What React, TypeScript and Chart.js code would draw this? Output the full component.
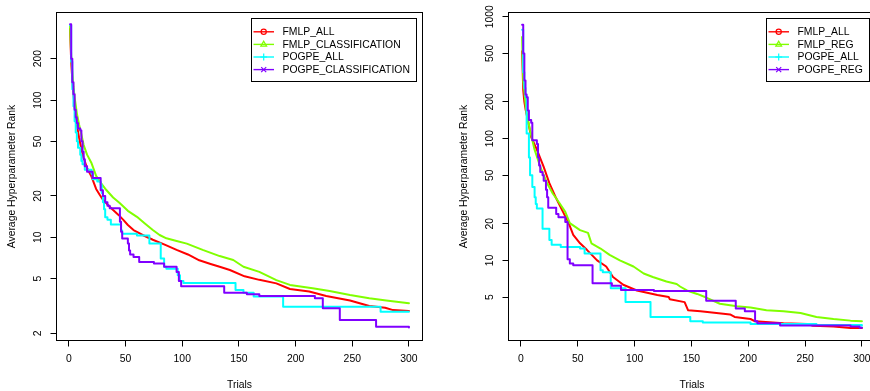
import React, { useEffect, useRef } from "react";
import { Chart, registerables } from "chart.js";

Chart.register(...registerables);

type Pt = [number, number];

// ---- axis ticks & labels ----
const TRIAL_TICKS = [0, 50, 100, 150, 200, 250, 300];
const LEFT_RANK_TICKS = [2, 5, 10, 20, 50, 100, 200];
const RIGHT_RANK_TICKS = [5, 10, 20, 50, 100, 200, 500, 1000];
const X_TITLE = "Trials";
const Y_TITLE = "Average Hyperparameter Rank";

// ---- series names / styles ----
const LEFT_NAMES = ["FMLP_ALL", "FMLP_CLASSIFICATION", "POGPE_ALL", "POGPE_CLASSIFICATION"];
const RIGHT_NAMES = ["FMLP_ALL", "FMLP_REG", "POGPE_ALL", "POGPE_REG"];
const SERIES_COLORS = ["#FF0000", "#80FF00", "#00FFFF", "#8000FF"];
const SERIES_MARKERS = ["circle", "triangle", "plus", "cross"];
const SERIES_STEPPED = [false, false, true, true];

// ---- left panel data: [trial, average rank] ----
const LEFT_FMLP_ALL: Pt[] = [
  [1, 330], [2, 190], [3, 140], [4, 110], [5, 90], [7, 66], [9, 53], [11, 44], [13, 38],
  [16, 32], [20, 27.6], [24, 22.5], [27, 20.5], [30, 18.8], [35, 17], [39, 15.8], [44, 14.5],
  [48, 13.4], [52, 12.3], [57, 11.3], [65, 10.4], [74, 9.6], [85, 8.8], [95, 8.1], [105, 7.5],
  [115, 6.8], [125, 6.4], [133, 6.1], [142, 5.78], [155, 5.2], [168, 4.9], [183, 4.62],
  [195, 4.2], [212, 4.03], [227, 3.74], [248, 3.47], [265, 3.16], [279, 3.07], [286, 2.95],
  [300, 2.91],
];
const LEFT_FMLP_CLASSIFICATION: Pt[] = [
  [1, 345], [2, 210], [3, 160], [4, 125], [5, 105], [7, 80], [9, 66], [11, 56], [13, 47],
  [16, 40], [20, 34.6], [24, 28], [28, 25], [33, 22.1], [39, 19.5], [45, 17.7], [52, 15.6],
  [60, 14.1], [67, 12.6], [74, 11.3], [80, 10.4], [86, 9.84], [95, 9.4], [104, 9.0],
  [118, 8.1], [133, 7.3], [145, 6.84], [154, 6.1], [168, 5.6], [183, 4.88], [195, 4.5],
  [215, 4.26], [230, 4.06], [248, 3.8], [265, 3.6], [280, 3.47], [300, 3.31],
];
const LEFT_POGPE_ALL: Pt[] = [
  [1, 350], [2, 190], [3, 120], [4, 90], [5, 70], [6, 58], [7, 50], [8, 45], [10, 40],
  [11, 36], [12, 34], [14, 31], [20, 29], [21, 26.5], [25, 25.5], [28, 24], [29, 21],
  [30, 18], [31, 16], [32, 14], [34, 13.4], [37, 12.4], [46, 11.2], [47, 10.6], [60, 10.3],
  [71, 9.0], [81, 7.0], [84, 6.1], [86, 5.9], [96, 5.3], [98, 4.8], [101, 4.65], [147, 4.13],
  [154, 3.95], [163, 3.7], [189, 3.12], [275, 2.87], [300, 2.87],
];
const LEFT_POGPE_CLASSIFICATION: Pt[] = [
  [1, 356], [2, 200], [3, 135], [4, 110], [5, 85], [6, 75], [7, 68], [8, 62], [10, 60],
  [11, 50], [12, 42], [13, 37], [14, 33], [16, 30], [21, 27], [28, 22], [30, 20], [32, 18],
  [34, 17], [36, 16.3], [45, 13], [46, 11], [47, 9.8], [52, 9], [53, 8], [54, 7.5], [57, 7.2],
  [62, 6.6], [75, 6.45], [84, 6.1], [95, 5.6], [97, 4.8], [99, 4.4], [137, 3.95], [157, 3.85],
  [168, 3.74], [217, 3.6], [224, 3.04], [239, 2.5], [271, 2.23], [300, 2.2],
];

// ---- right panel data: [trial, average rank] ----
const RIGHT_FMLP_ALL: Pt[] = [
  [1, 520], [2, 250], [3, 200], [4, 175], [6, 142], [9, 103], [14, 81], [20, 58.6], [25, 43],
  [31, 32.3], [37, 25], [42, 20.2], [46, 16.2], [52, 13.8], [58, 12.2], [67, 10], [75, 8.9],
  [81, 7.3], [90, 6.3], [102, 5.66], [114, 5.35], [120, 5.2], [130, 5.0], [131, 4.8],
  [144, 4.54], [147, 3.9], [158, 3.82], [172, 3.7], [184, 3.6], [188, 3.43], [202, 3.3],
  [206, 3.16], [231, 3.04], [252, 3.0], [257, 2.9], [275, 2.86], [290, 2.78], [300, 2.78],
];
const RIGHT_FMLP_REG: Pt[] = [
  [1, 680], [2, 300], [4, 195], [5, 160], [8, 117], [12, 81], [17, 58.6], [23, 43], [28, 35.4],
  [34, 29.4], [39, 25], [43, 20.2], [52, 17.7], [59, 16.8], [62, 13.8], [70, 12.5], [78, 11.1],
  [87, 10], [99, 8.9], [108, 7.8], [116, 7.3], [128, 6.7], [137, 6.4], [140, 6.1], [146, 5.66],
  [155, 5.3], [163, 4.95], [175, 4.4], [190, 4.2], [202, 4.1], [216, 3.9], [231, 3.82],
  [246, 3.7], [260, 3.43], [275, 3.3], [290, 3.2], [300, 3.16],
];
const RIGHT_POGPE_ALL: Pt[] = [
  [1, 780], [2, 350], [3, 260], [4, 220], [5, 110], [7, 70], [8, 50], [10, 40], [12, 33],
  [13, 29], [14, 26.7], [19, 18.2], [25, 14.7], [27, 13.4], [35, 12.9], [52, 12.5], [56, 11.4],
  [70, 8.3], [72, 8.0], [79, 5.9], [92, 4.54], [114, 3.43], [149, 3.16], [160, 3.09],
  [202, 3.0], [260, 2.95], [300, 2.9],
];
const RIGHT_POGPE_REG: Pt[] = [
  [1, 860], [2, 500], [3, 300], [4, 230], [5, 218], [6, 170], [7, 142], [9, 135], [10, 97],
  [14, 90], [15, 70], [16, 60], [17, 53], [19, 50], [20, 45], [22, 38], [23, 33], [24, 27],
  [31, 24], [33, 22.6], [39, 20.6], [41, 10.2], [43, 9.4], [46, 9.1], [63, 6.5], [80, 6.2],
  [88, 5.7], [117, 5.6], [163, 4.66], [189, 4.03], [197, 3.82], [206, 3.16], [208, 3.04],
  [228, 2.92], [290, 2.86], [298, 2.8], [300, 2.8],
];

const FONT = "10.4px 'Liberation Sans', Arial, Helvetica, sans-serif";

function crisp(v: number) {
  return Math.round(v - 0.5) + 0.5;
}

function drawMarker(ctx: CanvasRenderingContext2D, kind: string, x: number, y: number) {
  ctx.beginPath();
  if (kind === "circle") {
    ctx.arc(x, y, 2.6, 0, Math.PI * 2);
  } else if (kind === "triangle") {
    ctx.moveTo(x, y - 3.3);
    ctx.lineTo(x - 2.9, y + 1.7);
    ctx.lineTo(x + 2.9, y + 1.7);
    ctx.closePath();
  } else if (kind === "plus") {
    ctx.moveTo(x - 3.4, y);
    ctx.lineTo(x + 3.4, y);
    ctx.moveTo(x, y - 3.4);
    ctx.lineTo(x, y + 3.4);
  } else {
    ctx.moveTo(x - 2.5, y - 2.5);
    ctx.lineTo(x + 2.5, y + 2.5);
    ctx.moveTo(x - 2.5, y + 2.5);
    ctx.lineTo(x + 2.5, y - 2.5);
  }
  ctx.stroke();
}

function makeRAxes(names: string[], yTicks: number[]) {
  return {
    id: "rAxes",
    afterDraw(chart: any) {
      const { ctx, chartArea: a, scales } = chart;
      const xs = scales.x;
      const ys = scales.y;
      ctx.save();
      ctx.strokeStyle = "#000";
      ctx.fillStyle = "#000";
      ctx.lineWidth = 1;
      ctx.font = FONT;
      // box
      ctx.strokeRect(a.left, a.top, a.right - a.left, a.bottom - a.top);
      // x ticks
      ctx.beginPath();
      for (const t of TRIAL_TICKS) {
        const px = crisp(xs.getPixelForValue(t));
        ctx.moveTo(px, a.bottom);
        ctx.lineTo(px, a.bottom + 6);
      }
      ctx.stroke();
      ctx.textAlign = "center";
      ctx.textBaseline = "middle";
      for (const t of TRIAL_TICKS) {
        ctx.fillText(String(t), xs.getPixelForValue(t), a.bottom + 19);
      }
      // y ticks
      ctx.beginPath();
      for (const v of yTicks) {
        const py = crisp(ys.getPixelForValue(v));
        ctx.moveTo(a.left, py);
        ctx.lineTo(a.left - 6, py);
      }
      ctx.stroke();
      for (const v of yTicks) {
        const py = ys.getPixelForValue(v);
        ctx.save();
        ctx.translate(a.left - 18, py);
        ctx.rotate(-Math.PI / 2);
        ctx.fillText(String(v), 0, 0);
        ctx.restore();
      }
      // titles
      ctx.fillText(X_TITLE, (a.left + a.right) / 2, a.bottom + 45);
      ctx.save();
      ctx.translate(a.left - 44, (a.top + a.bottom) / 2);
      ctx.rotate(-Math.PI / 2);
      ctx.fillText(Y_TITLE, 0, 0);
      ctx.restore();
      // legend
      let maxW = 0;
      for (const n of names) maxW = Math.max(maxW, ctx.measureText(n).width);
      const boxW = Math.round(31 + maxW + 7);
      const boxH = 63;
      const boxRight = a.right - 6;
      const boxLeft = boxRight - boxW;
      const boxTop = a.top + 6;
      ctx.fillStyle = "#fff";
      ctx.fillRect(boxLeft, boxTop, boxW, boxH);
      ctx.strokeStyle = "#000";
      ctx.strokeRect(boxLeft, boxTop, boxW, boxH);
      ctx.textAlign = "left";
      names.forEach((n, i) => {
        const ry = boxTop + 13.3 + i * 12.6;
        ctx.strokeStyle = SERIES_COLORS[i];
        ctx.lineWidth = 1.4;
        ctx.beginPath();
        ctx.moveTo(boxLeft + 2, ry);
        ctx.lineTo(boxLeft + 22.5, ry);
        ctx.stroke();
        ctx.lineWidth = 1.2;
        drawMarker(ctx, SERIES_MARKERS[i], boxLeft + 12.2, ry);
        ctx.fillStyle = "#000";
        ctx.fillText(n, boxLeft + 31, ry + 0.5);
      });
      ctx.restore();
    },
  };
}

interface PanelProps {
  left: number;
  width: number;
  names: string[];
  series: Pt[][];
  yTicks: number[];
  yMin: number;
  yMax: number;
  pad: { left: number; right: number; top: number; bottom: number };
}

function Panel(props: PanelProps) {
  const ref = useRef<HTMLCanvasElement>(null);
  useEffect(() => {
    const canvas = ref.current!;
    const chart = new Chart(canvas, {
      type: "line",
      data: {
        datasets: props.series.map((s, i) => ({
          label: props.names[i],
          data: s.map(([x, y]) => ({ x, y })),
          borderColor: SERIES_COLORS[i],
          backgroundColor: SERIES_COLORS[i],
          borderWidth: 2,
          pointRadius: 0,
          fill: false,
          tension: 0,
          stepped: SERIES_STEPPED[i],
          borderCapStyle: "round",
          borderJoinStyle: "round",
          order: props.series.length - 1 - i,
        })),
      },
      options: {
        animation: false,
        responsive: false,
        devicePixelRatio: 1,
        events: [],
        layout: { padding: props.pad },
        scales: {
          x: { type: "linear", min: -10.96, max: 311.96, display: false, bounds: "data" },
          y: { type: "logarithmic", min: props.yMin, max: props.yMax, display: false, bounds: "data" },
        },
        plugins: { legend: { display: false }, tooltip: { enabled: false } },
      },
      plugins: [makeRAxes(props.names, props.yTicks)],
    } as any);
    return () => chart.destroy();
  }, []);
  return (
    <canvas
      ref={ref}
      width={props.width}
      height={391}
      style={{ position: "absolute", left: props.left, top: 0, width: props.width, height: 391 }}
    />
  );
}

export default function App() {
  return (
    <div
      style={{
        position: "absolute",
        left: 0,
        top: 0,
        width: 870,
        height: 391,
        overflow: "hidden",
        background: "#fff",
      }}
    >
      <Panel
        left={0}
        width={435}
        names={LEFT_NAMES}
        series={[LEFT_FMLP_ALL, LEFT_FMLP_CLASSIFICATION, LEFT_POGPE_ALL, LEFT_POGPE_CLASSIFICATION]}
        yTicks={LEFT_RANK_TICKS}
        yMin={1.772}
        yMax={434}
        pad={{ left: 56.5, right: 12.5, top: 12.5, bottom: 50.5 }}
      />
      <Panel
        left={435}
        width={450}
        names={RIGHT_NAMES}
        series={[RIGHT_FMLP_ALL, RIGHT_FMLP_REG, RIGHT_POGPE_ALL, RIGHT_POGPE_REG]}
        yTicks={RIGHT_RANK_TICKS}
        yMin={2.198}
        yMax={1083}
        pad={{ left: 73.5, right: 9.5, top: 12.5, bottom: 50.5 }}
      />
    </div>
  );
}
